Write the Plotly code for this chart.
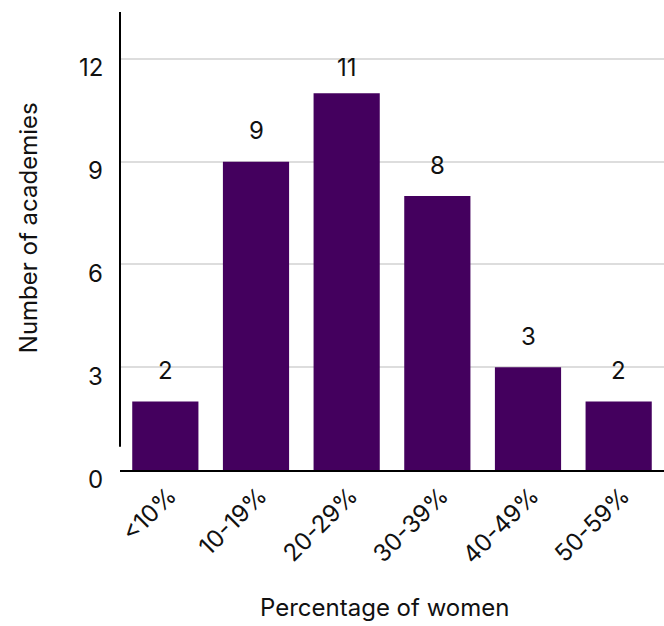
import plotly.graph_objects as go

# Distribution of academies by share of women members
categories = ["<10%", "10-19%", "20-29%", "30-39%", "40-49%", "50-59%"]
counts = [2, 9, 11, 8, 3, 2]
y_ticks = [0, 3, 6, 9, 12]

BAR_COLOR = "#44005E"
FONT = "Inter, Roboto, sans-serif"
TEXT_COLOR = "#111111"
FONT_SIZE = 24
Y_MAX = 13.37
LABEL_OFFSET = 0.9          # value label centre above bar top, in data units
LABEL_CEILING = 11.74       # value labels never rise above the top gridline

fig = go.Figure()
fig.add_trace(go.Bar(
    x=categories,
    y=counts,
    marker=dict(color=BAR_COLOR, line=dict(width=0)),
    hoverinfo="skip",
))

txt = dict(family=FONT, size=FONT_SIZE, color=TEXT_COLOR)

# value labels above each bar
for cat, val in zip(categories, counts):
    fig.add_annotation(
        x=cat, y=min(val + LABEL_OFFSET, LABEL_CEILING),
        text=str(val), showarrow=False, yanchor="middle",
        font=txt,
    )

# y tick labels, sitting just below their gridlines
for t in y_ticks:
    fig.add_annotation(
        xref="paper", x=0, y=t, text=str(t), showarrow=False,
        xanchor="right", yanchor="middle", xshift=-15, yshift=-9,
        font=txt,
    )

# axis titles
fig.add_annotation(
    xref="paper", yref="paper", x=0, y=0.528, xshift=-92,
    text="Number of academies", textangle=-90, showarrow=False,
    xanchor="center", yanchor="middle", font=txt,
)
fig.add_annotation(
    xref="paper", yref="paper", x=0.5, y=0, xshift=-8, yshift=-137,
    text="Percentage of women", showarrow=False,
    xanchor="center", yanchor="middle", font=txt,
)

# vertical axis rule
fig.add_shape(
    type="line", xref="paper", yref="y",
    x0=0, x1=0, y0=0.68, y1=Y_MAX,
    line=dict(color="#000000", width=2),
)

fig.update_layout(
    width=664, height=626,
    margin=dict(l=120, r=0, t=12, b=156),
    paper_bgcolor="white", plot_bgcolor="white",
    bargap=0.27,
    showlegend=False,
    font=txt,
    xaxis=dict(
        showline=True, linecolor="#000000", linewidth=2,
        showgrid=False, zeroline=False,
        tickangle=-45,
        ticklabelshift=4,
        tickfont=txt,
    ),
    yaxis=dict(
        range=[0, Y_MAX],
        tickvals=y_ticks,
        showticklabels=False,
        showline=False, zeroline=False,
        showgrid=True, gridcolor="#DDDDDD", gridwidth=1.5,
    ),
)

fig.write_html("out.html")
